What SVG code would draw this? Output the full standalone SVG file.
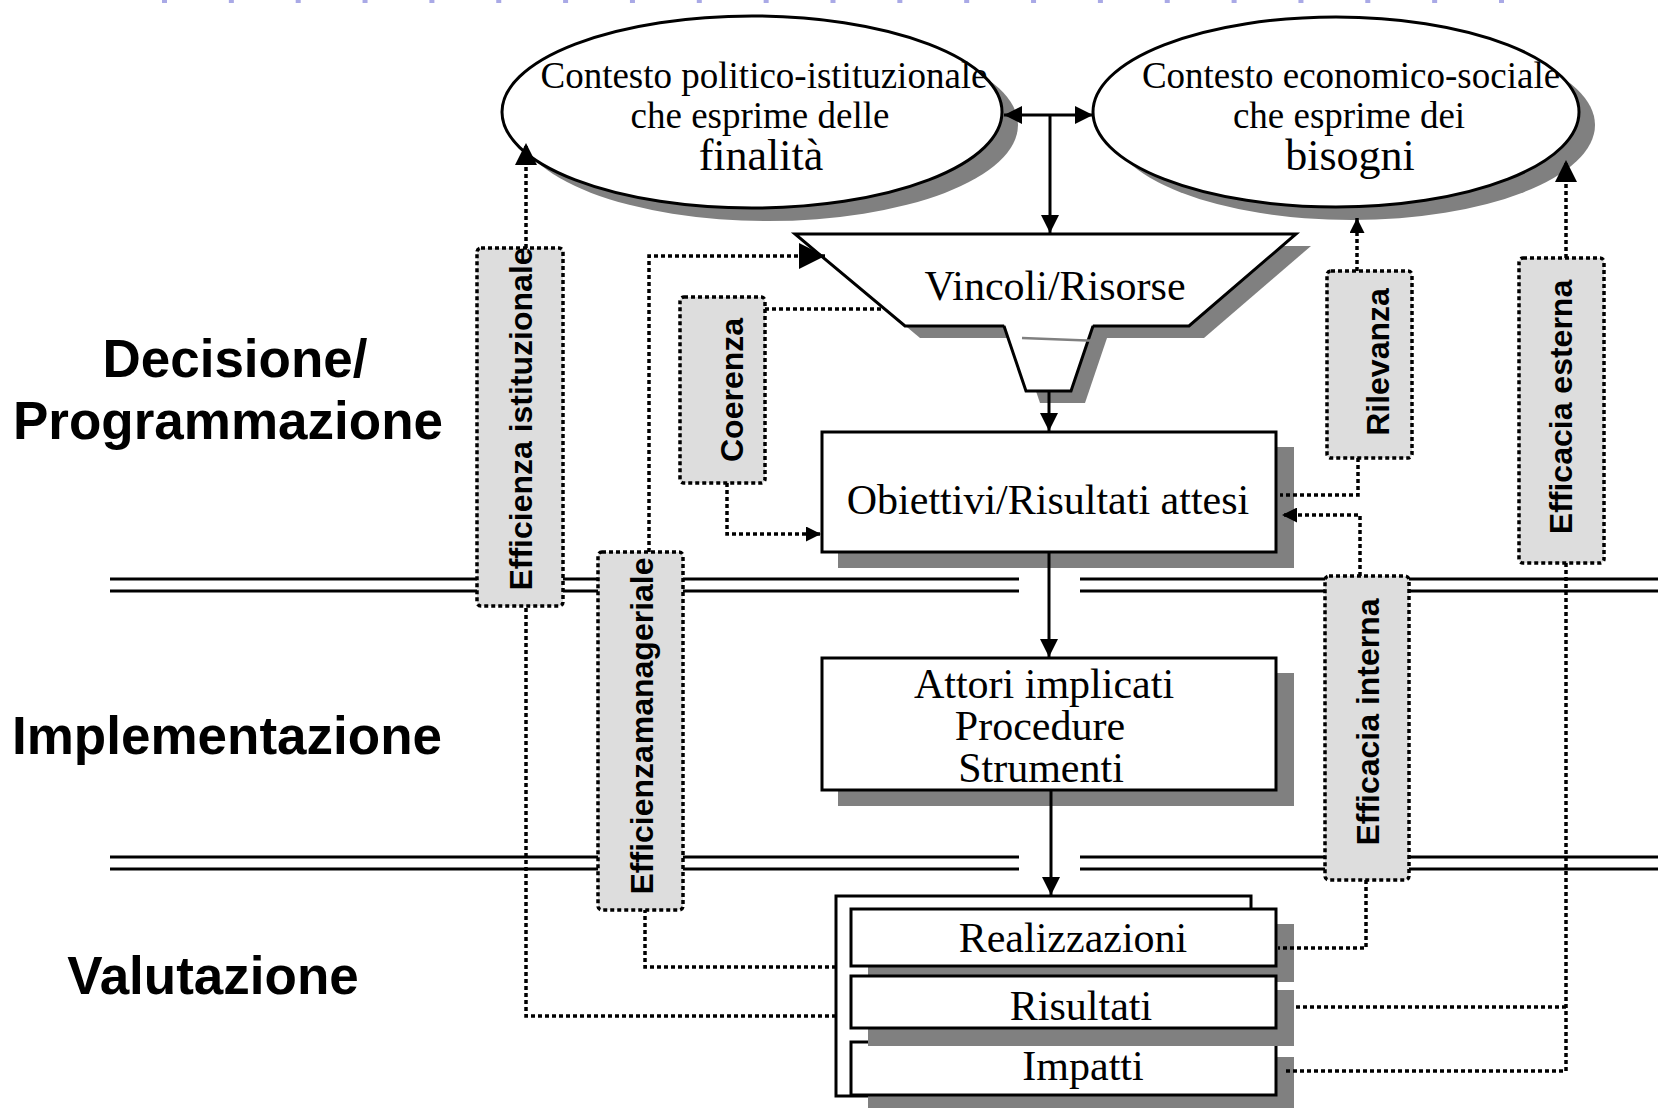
<svg xmlns="http://www.w3.org/2000/svg" width="1658" height="1108" viewBox="0 0 1658 1108">
<style>
.serif{font-family:"Liberation Serif","Times New Roman",serif;fill:#000;text-anchor:middle}
.phase{font-family:"Liberation Sans",Arial,sans-serif;font-weight:bold;font-size:53px;fill:#000;text-anchor:middle}
.vl{font-family:"Liberation Sans",Arial,sans-serif;font-weight:bold;font-size:32px;fill:#000;text-anchor:middle}
.shadow{fill:#808080;stroke:none}
.box{fill:#fff;stroke:#000;stroke-width:3}
.lbl{fill:#dddddd;stroke:#000;stroke-width:3.5;stroke-dasharray:4 3}
.dot{fill:none;stroke:#000;stroke-width:3.5;stroke-dasharray:4 3}
.solid{fill:none;stroke:#000;stroke-width:3}
.sep{stroke:#000;stroke-width:3}
</style>
<defs>
<marker id="a18" viewBox="0 0 20 20" refX="20" refY="10" markerWidth="18" markerHeight="18" markerUnits="userSpaceOnUse" orient="auto-start-reverse"><path d="M0,0 L20,10 L0,20 z" fill="#000"/></marker>
<marker id="a22" viewBox="0 0 20 20" refX="20" refY="10" markerWidth="22" markerHeight="22" markerUnits="userSpaceOnUse" orient="auto"><path d="M0,0 L20,10 L0,20 z" fill="#000"/></marker>
<marker id="a26" viewBox="0 0 20 20" refX="20" refY="10" markerWidth="27" markerHeight="26" markerUnits="userSpaceOnUse" orient="auto"><path d="M0,0 L20,10 L0,20 z" fill="#000"/></marker>
<marker id="a15" viewBox="0 0 20 20" refX="20" refY="10" markerWidth="15" markerHeight="15" markerUnits="userSpaceOnUse" orient="auto"><path d="M0,0 L20,10 L0,20 z" fill="#000"/></marker>
</defs>
<rect width="1658" height="1108" fill="#fff"/>
<line x1="162" y1="1.5" x2="1510" y2="1.5" stroke="#a9a9e6" stroke-width="3" stroke-dasharray="5 61.85"/>

<g id="phase-labels">
<text class="phase" x="235" y="377">Decisione/</text>
<text class="phase" x="228" y="439">Programmazione</text>
<text class="phase" x="227" y="754">Implementazione</text>
<text class="phase" x="213" y="994">Valutazione</text>
</g>

<g id="separators">
<line class="sep" x1="110" y1="579" x2="1019" y2="579"/>
<line class="sep" x1="110" y1="591" x2="1019" y2="591"/>
<line class="sep" x1="1080" y1="579" x2="1658" y2="579"/>
<line class="sep" x1="1080" y1="591" x2="1658" y2="591"/>
<line class="sep" x1="110" y1="857" x2="1019" y2="857"/>
<line class="sep" x1="110" y1="869" x2="1019" y2="869"/>
<line class="sep" x1="1080" y1="857" x2="1658" y2="857"/>
<line class="sep" x1="1080" y1="869" x2="1658" y2="869"/>
</g>

<g id="contesto-politico-istituzionale">
<ellipse class="shadow" cx="768" cy="125" rx="250" ry="96"/>
<ellipse class="box" cx="752" cy="112" rx="250" ry="96" stroke-width="3.5"/>
<text class="serif" x="764" y="88" font-size="37">Contesto politico-istituzionale</text>
<text class="serif" x="760" y="128" font-size="37">che esprime delle</text>
<text class="serif" x="761" y="170" font-size="44">finalità</text>
</g>

<g id="contesto-economico-sociale">
<ellipse class="shadow" cx="1352" cy="125" rx="243" ry="95"/>
<ellipse class="box" cx="1336" cy="112" rx="243" ry="95" stroke-width="3.5"/>
<text class="serif" x="1351" y="88" font-size="37">Contesto economico-sociale</text>
<text class="serif" x="1349" y="128" font-size="37">che esprime dei</text>
<text class="serif" x="1350" y="170" font-size="44">bisogni</text>
</g>

<g id="vincoli-risorse">
<polygon class="shadow" points="810,246 1311,246 1204,338 920,338"/>
<polygon class="shadow" points="1018,338 1107,338 1085,403 1040,403"/>
<polygon class="box" points="795,234 1296,234 1189,326 905,326"/>
<polygon points="1004,324 1093,324 1071,391 1026,391" fill="#fff" stroke="none"/>
<path d="M1004,326 L1026,391 L1071,391 L1093,326" class="solid"/>
<line x1="1022" y1="338" x2="1100" y2="341" stroke="#808080" stroke-width="2.5"/>
<text class="serif" x="1055" y="300" font-size="42">Vincoli/Risorse</text>
</g>

<g id="obiettivi">
<rect class="shadow" x="838" y="447" width="456" height="121"/>
<rect class="box" x="822" y="432" width="454" height="120"/>
<text class="serif" x="1048" y="514" font-size="42">Obiettivi/Risultati attesi</text>
</g>

<g id="attori">
<rect class="shadow" x="838" y="673" width="456" height="133"/>
<rect class="box" x="822" y="658" width="454" height="132"/>
<text class="serif" x="1044" y="698" font-size="42">Attori implicati</text>
<text class="serif" x="1040" y="740" font-size="42">Procedure</text>
<text class="serif" x="1041" y="782" font-size="42">Strumenti</text>
</g>

<g id="valutazione-esiti">
<rect class="box" x="836" y="896" width="415" height="200"/>
</g>

<g id="realizzazioni">
<rect class="shadow" x="868" y="924" width="426" height="58"/>
<rect class="box" x="851" y="909" width="425" height="57"/>
<text class="serif" x="1073" y="952" font-size="42">Realizzazioni</text>
</g>

<g id="impatti">
<rect class="shadow" x="868" y="1057" width="426" height="51"/>
<rect class="box" x="851" y="1042" width="425" height="53"/>
<text class="serif" x="1083" y="1080" font-size="42">Impatti</text>
</g>

<g id="risultati">
<rect class="shadow" x="868" y="990" width="426" height="56"/>
<rect class="box" x="851" y="976" width="425" height="52"/>
<text class="serif" x="1081" y="1020" font-size="42">Risultati</text>
</g>

<g id="connectors">
<path class="solid" d="M1004,115 H1093" marker-start="url(#a18)" marker-end="url(#a18)"/>
<path class="solid" d="M1050,115 V233" marker-end="url(#a18)"/>
<path class="solid" d="M1049,391 V431" marker-end="url(#a18)"/>
<path class="solid" d="M1049,552 V657" marker-end="url(#a18)"/>
<path class="solid" d="M1051,790 V895" marker-end="url(#a18)"/>

<path class="dot" d="M836,1016 H526 V143" marker-end="url(#a22)"/>
<path class="dot" d="M649,552 V256 H825" marker-end="url(#a26)"/>
<path class="dot" d="M836,967 H645 V910"/>
<path class="dot" d="M765,309 H882"/>
<path class="dot" d="M727,483 V534 H821" marker-end="url(#a15)"/>
<path class="dot" d="M1357,271 V218" marker-end="url(#a15)"/>
<path class="dot" d="M1358,458 V495 H1280"/>
<path class="dot" d="M1360,576 V515 H1282" marker-end="url(#a15)"/>
<path class="dot" d="M1366,880 V948 H1278"/>
<path class="dot" d="M1566,258 V160" marker-end="url(#a22)"/>
<path class="dot" d="M1566,563 V1071 H1284"/>
<path class="dot" d="M1566,1007 H1294"/>
</g>

<g id="efficienza-istituzionale">
<rect class="lbl" x="477" y="248" width="86" height="358" rx="4"/>
<text class="vl" transform="translate(532,419) rotate(-90)">Efficienza istituzionale</text>
</g>
<g id="efficienza-manageriale">
<rect class="lbl" x="598" y="552" width="85" height="358" rx="4"/>
<text class="vl" transform="translate(653,726) rotate(-90)" word-spacing="-8">Efficienza manageriale</text>
</g>
<g id="coerenza">
<rect class="lbl" x="680" y="297" width="85" height="186" rx="4"/>
<text class="vl" transform="translate(743,390) rotate(-90)">Coerenza</text>
</g>
<g id="rilevanza">
<rect class="lbl" x="1327" y="271" width="85" height="187" rx="4"/>
<text class="vl" transform="translate(1389,362) rotate(-90)">Rilevanza</text>
</g>
<g id="efficacia-esterna">
<rect class="lbl" x="1519" y="258" width="85" height="305" rx="4"/>
<text class="vl" transform="translate(1572,407) rotate(-90)">Efficacia esterna</text>
</g>
<g id="efficacia-interna">
<rect class="lbl" x="1325" y="576" width="84" height="304" rx="4"/>
<text class="vl" transform="translate(1379,722) rotate(-90)">Efficacia interna</text>
</g>
</svg>
